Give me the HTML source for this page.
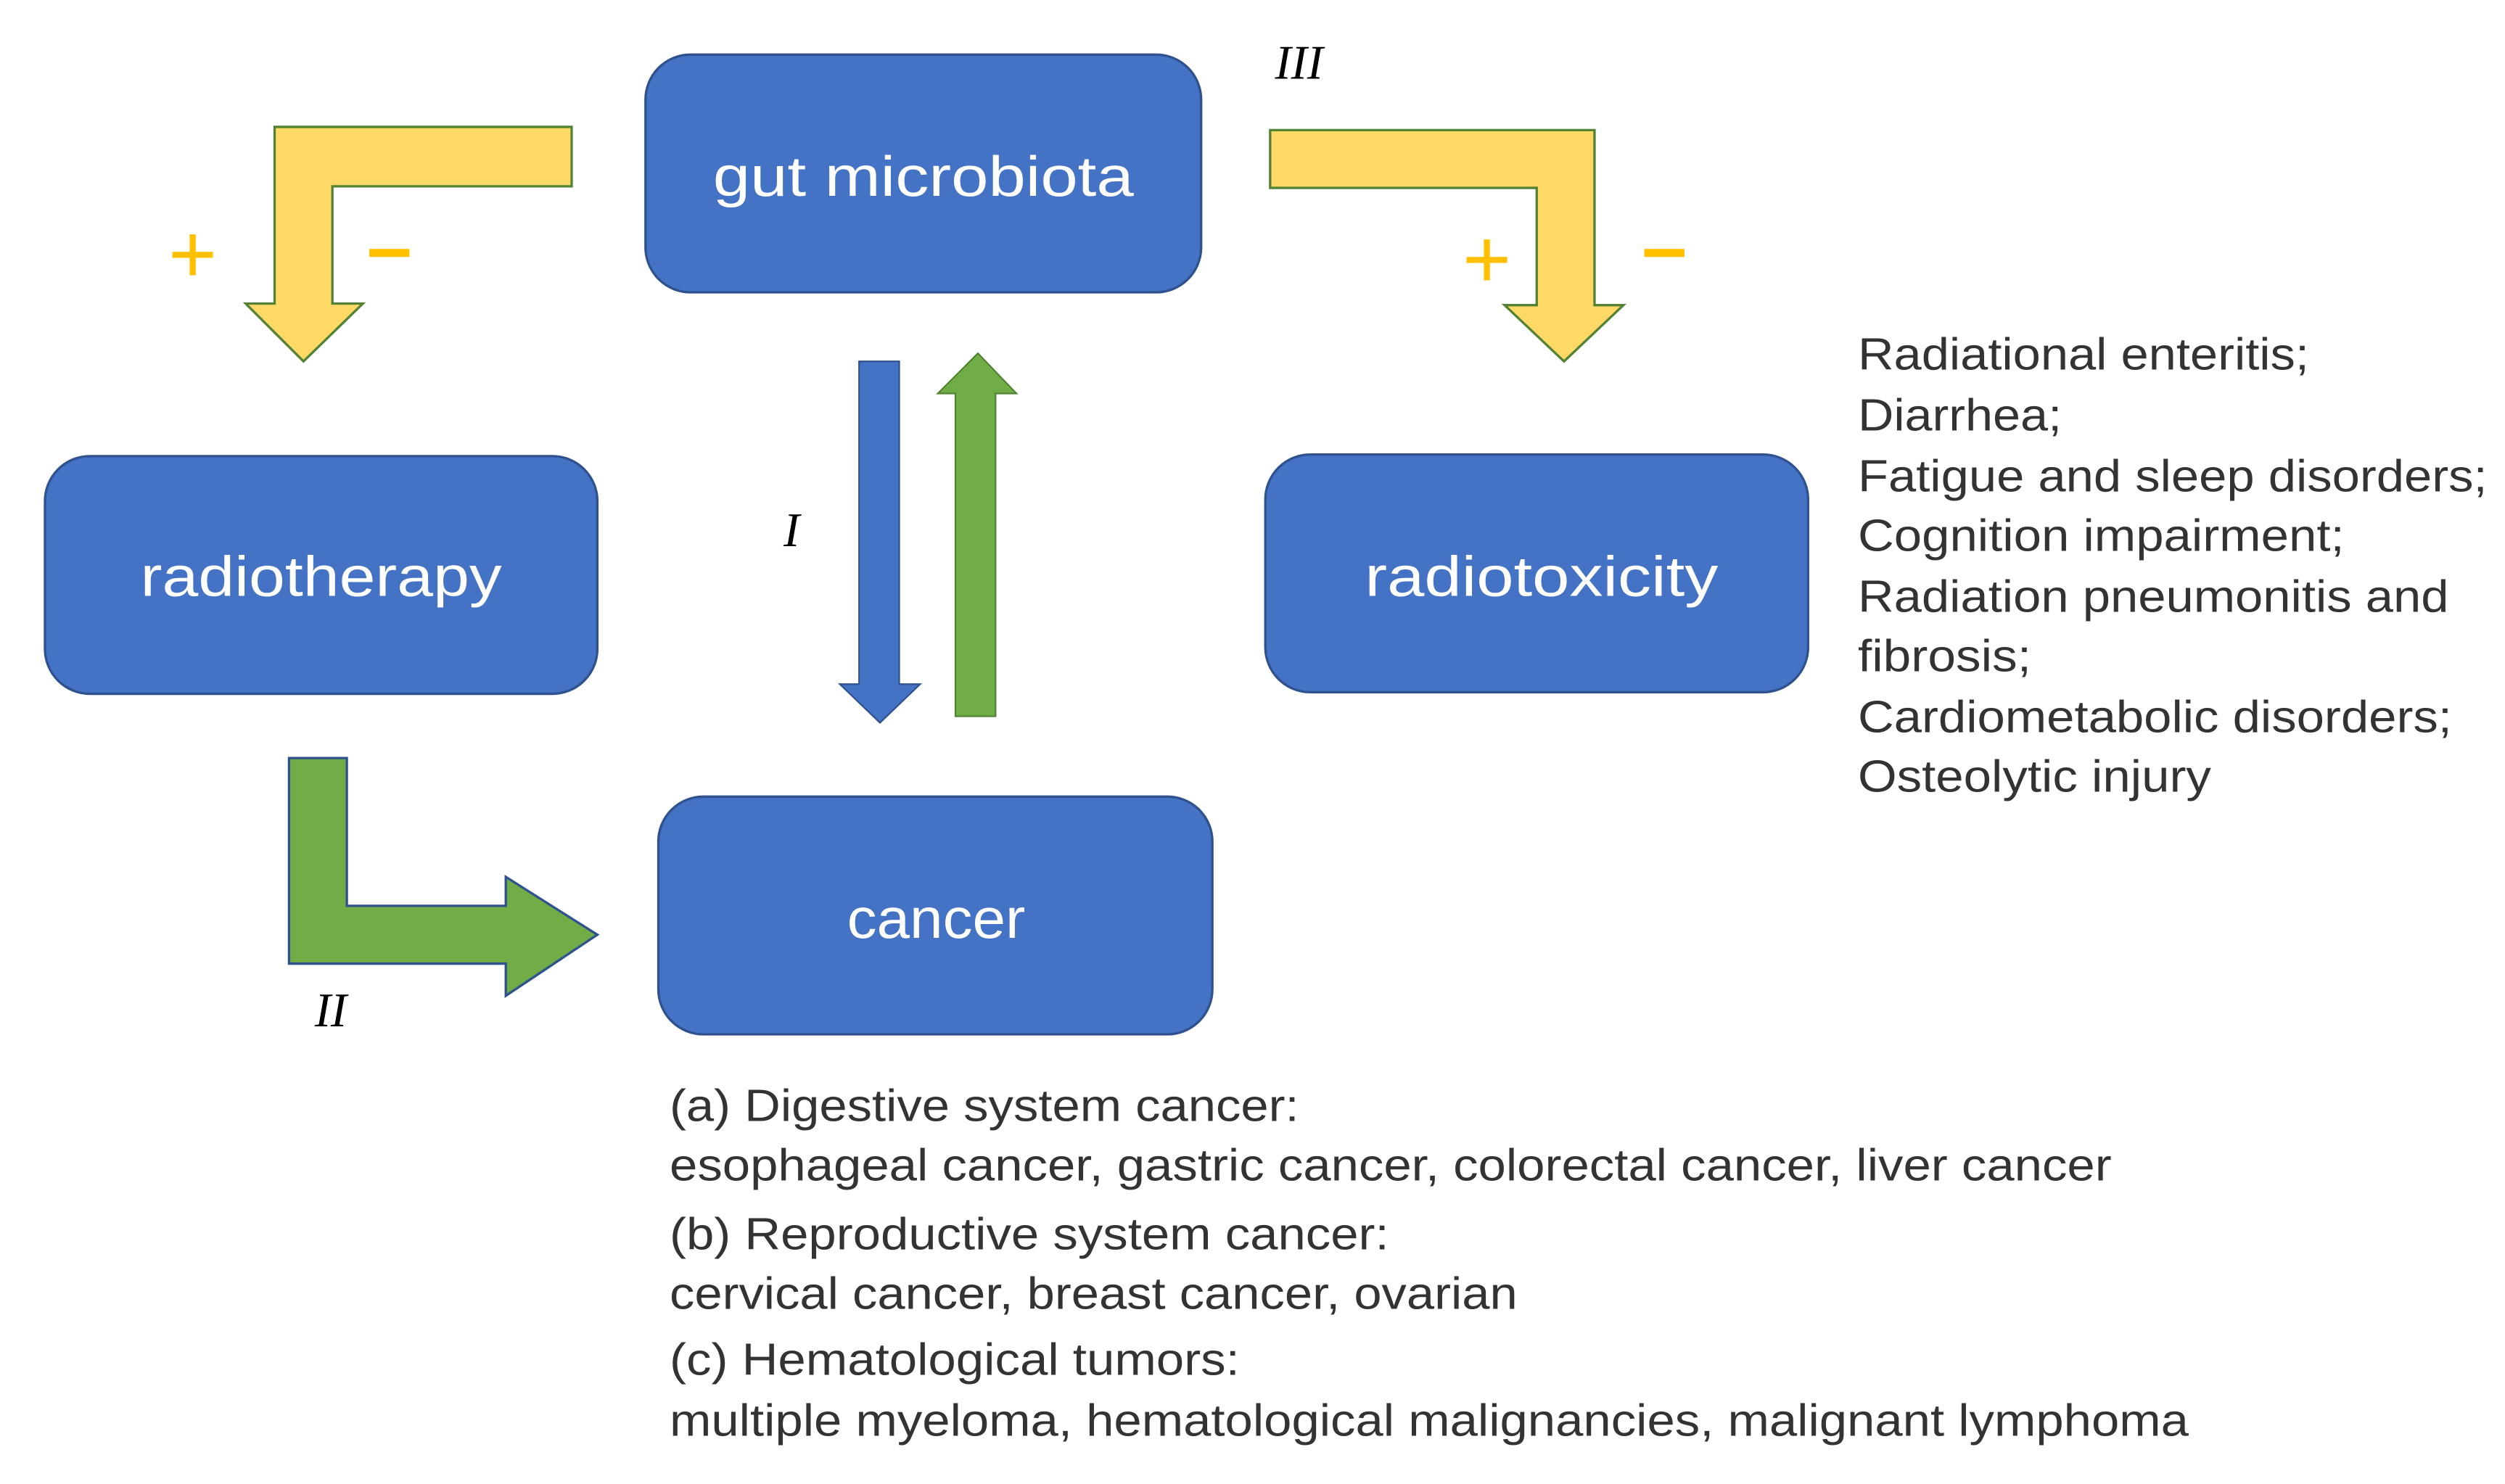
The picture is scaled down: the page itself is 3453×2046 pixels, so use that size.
<!DOCTYPE html>
<html><head><meta charset="utf-8"><style>
html,body{margin:0;padding:0;background:#fff;}
svg{display:block;}
</style></head><body>
<svg width="3453" height="2046" viewBox="0 0 1560 924" preserveAspectRatio="none" xmlns="http://www.w3.org/2000/svg">
<rect width="1560" height="924" fill="#fff"/>
<g fill="#4472C4" stroke="#2F528F" stroke-width="1.5">
<rect x="402" y="34" width="346" height="148" rx="28"/>
<rect x="28" y="284" width="344" height="148" rx="28"/>
<rect x="788" y="283" width="338" height="148" rx="28"/>
<rect x="410" y="496" width="345" height="148" rx="28"/>
</g>
<g font-family="Liberation Sans, sans-serif" fill="#fff" font-size="35" text-anchor="middle">
<text x="575" y="122" textLength="262" lengthAdjust="spacingAndGlyphs">gut microbiota</text>
<text x="200" y="371" textLength="225" lengthAdjust="spacingAndGlyphs">radiotherapy</text>
<text x="960" y="371" textLength="220" lengthAdjust="spacingAndGlyphs">radiotoxicity</text>
<text x="583" y="584" textLength="111" lengthAdjust="spacingAndGlyphs">cancer</text>
</g>
<g fill="#FFD966" stroke="#548235" stroke-width="1.5">
<polygon points="356,79 171,79 171,189 153,189 189,225 226,189 207,189 207,116 356,116"/>
<polygon points="791,81 993,81 993,190 1011,190 974,225 937,190 957,190 957,117 791,117"/>
</g>
<polygon points="535,225 560,225 560,426 573,426 548,450 523,426 535,426" fill="#4472C4" stroke="#2F528F" stroke-width="1"/>
<polygon points="595,446 620,446 620,245 633,245 609,220 584,245 595,245" fill="#70AD47" stroke="#548235" stroke-width="1"/>
<polygon points="180,472 216,472 216,564 315,564 315,546 372,582 315,620 315,600 180,600" fill="#70AD47" stroke="#2F528F" stroke-width="1.5"/>
<g fill="#FFC000" font-family="Liberation Sans, sans-serif" font-size="52" text-anchor="middle">
<text x="120" y="176">+</text>
<text x="926" y="179">+</text>
</g>
<g fill="#FFC000">
<rect x="230" y="155" width="25" height="5"/>
<rect x="1024" y="155" width="25" height="5"/>
</g>
<g font-family="Liberation Serif, serif" font-style="italic" font-size="30" fill="#000">
<text x="488" y="340">I</text>
<text x="196" y="639">II</text>
<text x="794" y="49">III</text>
</g>
<g font-family="Liberation Sans, sans-serif" font-size="28" fill="#333">
<text x="1157" y="230" textLength="281" lengthAdjust="spacingAndGlyphs">Radiational enteritis;</text>
<text x="1157" y="268" textLength="127" lengthAdjust="spacingAndGlyphs">Diarrhea;</text>
<text x="1157" y="306" textLength="392" lengthAdjust="spacingAndGlyphs">Fatigue and sleep disorders;</text>
<text x="1157" y="343" textLength="303" lengthAdjust="spacingAndGlyphs">Cognition impairment;</text>
<text x="1157" y="381" textLength="368" lengthAdjust="spacingAndGlyphs">Radiation pneumonitis and</text>
<text x="1157" y="418" textLength="108" lengthAdjust="spacingAndGlyphs">fibrosis;</text>
<text x="1157" y="456" textLength="370" lengthAdjust="spacingAndGlyphs">Cardiometabolic disorders;</text>
<text x="1157" y="493" textLength="220" lengthAdjust="spacingAndGlyphs">Osteolytic injury</text>
<text x="417" y="698" textLength="392" lengthAdjust="spacingAndGlyphs">(a) Digestive system cancer:</text>
<text x="417" y="735" textLength="898" lengthAdjust="spacingAndGlyphs">esophageal cancer, gastric cancer, colorectal cancer, liver cancer</text>
<text x="417" y="778" textLength="448" lengthAdjust="spacingAndGlyphs">(b) Reproductive system cancer:</text>
<text x="417" y="815" textLength="528" lengthAdjust="spacingAndGlyphs">cervical cancer, breast cancer, ovarian</text>
<text x="417" y="856" textLength="355" lengthAdjust="spacingAndGlyphs">(c) Hematological tumors:</text>
<text x="417" y="894" textLength="946" lengthAdjust="spacingAndGlyphs">multiple myeloma, hematological malignancies, malignant lymphoma</text>
</g>
</svg>
</body></html>
